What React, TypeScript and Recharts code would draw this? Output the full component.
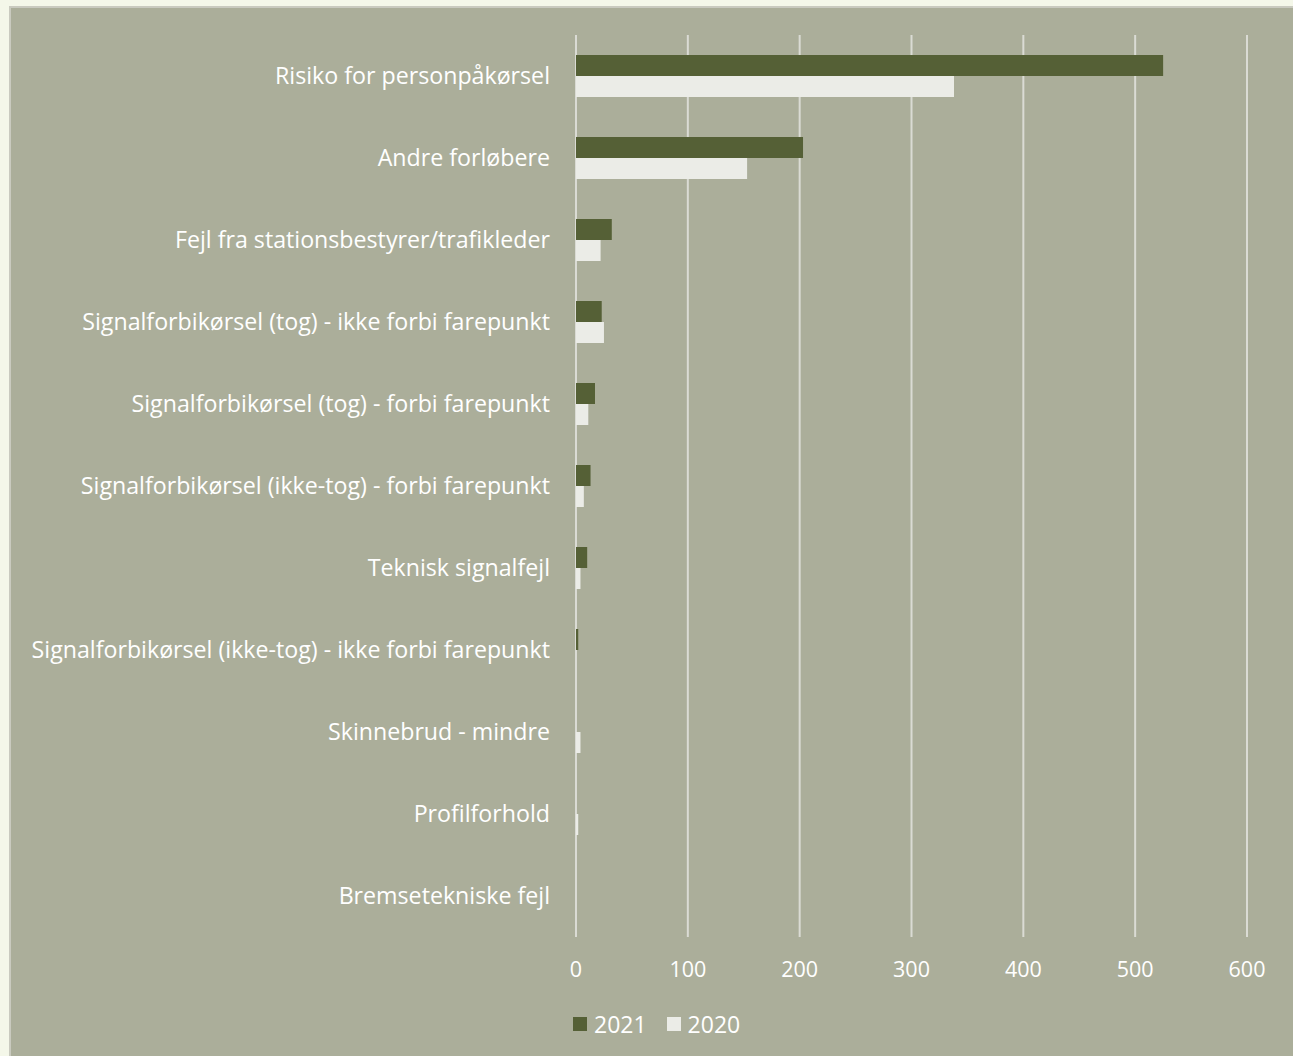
import React from "react";
import { BarChart, Bar, XAxis, YAxis, CartesianGrid } from "recharts";

const categories = [
  "Risiko for personpåkørsel",
  "Andre forløbere",
  "Fejl fra stationsbestyrer/trafikleder",
  "Signalforbikørsel (tog) - ikke forbi farepunkt",
  "Signalforbikørsel (tog) - forbi farepunkt",
  "Signalforbikørsel (ikke-tog) - forbi farepunkt",
  "Teknisk signalfejl",
  "Signalforbikørsel (ikke-tog) - ikke forbi farepunkt",
  "Skinnebrud - mindre",
  "Profilforhold",
  "Bremsetekniske fejl",
];
const values2021 = [525, 203, 32, 23, 17, 13, 10, 2, 0, 0, 0];
const values2020 = [338, 153, 22, 25, 11, 7, 4, 0, 4, 2, 0];
const xTicks = [0, 100, 200, 300, 400, 500, 600];

const seriesNames = ["2021", "2020"];
const colors = ["#556036", "#EBECE7"];

const data = categories.map((c, i) => ({
  name: c,
  y2021: values2021[i],
  y2020: values2020[i],
}));

const FONT = "'Open Sans', sans-serif";

const XTick = (props: any) => {
  const { x, y, payload } = props;
  return (
    <text x={x} y={y + 32} textAnchor="middle" fill="#FFFFFF" fontSize={21.5} fontFamily={FONT}>
      {payload.value}
    </text>
  );
};

const YTick = (props: any) => {
  const { x, y, payload } = props;
  return (
    <text x={x - 18} y={y} dy="0.35em" textAnchor="end" fill="#FFFFFF" fontSize={23.2} fontFamily={FONT}>
      {payload.value}
    </text>
  );
};

export default function App() {
  return (
    <div style={{ position: "absolute", left: 0, top: 0, width: 1293, height: 1056, background: "#F4F7E9", overflow: "hidden" }}>
      <div
        style={{
          position: "absolute",
          left: 9,
          top: 6,
          width: 1300,
          height: 1060,
          background: "#ABAE9A",
          borderLeft: "2px solid #C9CABF",
          borderTop: "2px solid #C9CABF",
        }}
      >
        <BarChart
          width={1284}
          height={1050}
          data={data}
          layout="vertical"
          margin={{ top: 27, right: 48, bottom: 120, left: 0 }}
          barSize={21}
          barGap={0}
        >
          <CartesianGrid horizontal={false} vertical={true} stroke="#DADBD4" strokeWidth={2} />
          <XAxis
            type="number"
            domain={[0, 600]}
            ticks={xTicks}
            axisLine={false}
            tickLine={false}
            tick={<XTick />}
            height={1}
            interval={0}
          />
          <YAxis
            type="category"
            dataKey="name"
            width={565}
            axisLine={false}
            tickLine={false}
            tick={<YTick />}
            interval={0}
          />
          <Bar dataKey="y2021" name={seriesNames[0]} fill={colors[0]} isAnimationActive={false} />
          <Bar dataKey="y2020" name={seriesNames[1]} fill={colors[1]} isAnimationActive={false} />
        </BarChart>
        <div
          style={{
            position: "absolute",
            left: 562,
            top: 1000,
            display: "flex",
            alignItems: "center",
            fontFamily: FONT,
            fontSize: 23,
            color: "#FFFFFF",
          }}
        >
          {seriesNames.map((n, i) => (
            <div key={n} style={{ display: "flex", alignItems: "center", marginRight: 20 }}>
              <div style={{ width: 14, height: 14, background: colors[i], marginRight: 7 }} />
              <span>{n}</span>
            </div>
          ))}
        </div>
      </div>
    </div>
  );
}
